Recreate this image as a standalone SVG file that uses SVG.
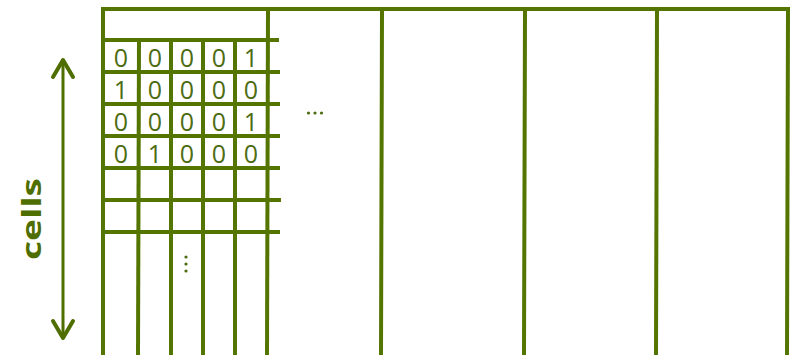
<svg xmlns="http://www.w3.org/2000/svg" width="794" height="355" viewBox="0 0 794 355">
<style>
.ln{stroke:#547500;stroke-width:4;fill:none;stroke-linecap:square}
.d{font-family:"Open Sans","Liberation Sans",sans-serif;font-size:25px;fill:#4d6b10;text-anchor:middle}
.dot{fill:#4d6b10}
.lbl{font-family:"Open Sans","Liberation Sans",sans-serif;font-size:27px;font-weight:bold;fill:#4f6e00;text-anchor:middle}
</style>
<rect width="794" height="355" fill="#ffffff"/>
<g id="frame" class="ln">
<line x1="103" y1="9" x2="788" y2="9"/>
<line x1="103" y1="9" x2="103" y2="355"/>
<line x1="268" y1="9" x2="267" y2="355"/>
<line x1="382" y1="10" x2="381" y2="355"/>
<line x1="525" y1="10" x2="524" y2="355"/>
<line x1="657" y1="10" x2="656" y2="355"/>
<line x1="788" y1="10" x2="787" y2="355"/>
</g>
<g id="grid" class="ln">
<line x1="103" y1="40" x2="277" y2="40"/>
<line x1="103" y1="72" x2="278" y2="72"/>
<line x1="103" y1="104" x2="278" y2="104"/>
<line x1="103" y1="136" x2="278" y2="136"/>
<line x1="103" y1="168" x2="278" y2="168"/>
<line x1="103" y1="200" x2="279" y2="200"/>
<line x1="103" y1="232" x2="278" y2="232"/>
<line x1="139" y1="40" x2="138" y2="355"/>
<line x1="171" y1="40" x2="171" y2="355"/>
<line x1="203" y1="40" x2="203" y2="355"/>
<line x1="235" y1="40" x2="235" y2="355"/>
</g>
<g id="digits">
<text class="d" x="121" y="67">0</text><text class="d" x="155" y="67">0</text><text class="d" x="187" y="67">0</text><text class="d" x="219" y="67">0</text><text class="d" x="251" y="67">1</text>
<text class="d" x="121" y="99">1</text><text class="d" x="155" y="99">0</text><text class="d" x="187" y="99">0</text><text class="d" x="219" y="99">0</text><text class="d" x="251" y="99">0</text>
<text class="d" x="121" y="131">0</text><text class="d" x="155" y="131">0</text><text class="d" x="187" y="131">0</text><text class="d" x="219" y="131">0</text><text class="d" x="251" y="131">1</text>
<text class="d" x="121" y="163">0</text><text class="d" x="155" y="163">1</text><text class="d" x="187" y="163">0</text><text class="d" x="219" y="163">0</text><text class="d" x="251" y="163">0</text>
</g>
<g id="ellipsis-h">
<circle class="dot" cx="308.5" cy="113" r="1.6"/><circle class="dot" cx="315" cy="113" r="1.6"/><circle class="dot" cx="321.5" cy="113" r="1.6"/>
</g>
<g id="ellipsis-v">
<circle class="dot" cx="186" cy="257" r="1.6"/><circle class="dot" cx="186" cy="264" r="1.6"/><circle class="dot" cx="186" cy="271" r="1.6"/>
</g>
<g id="connectors">
<line x1="63" y1="60" x2="63" y2="338" stroke="#4f6e00" stroke-width="3"/>
<polyline points="53,77 63,60 73,77" fill="none" stroke="#4f6e00" stroke-width="4" stroke-linecap="round" stroke-linejoin="round"/>
<polyline points="53,321 63,338 73,321" fill="none" stroke="#4f6e00" stroke-width="4" stroke-linecap="round" stroke-linejoin="round"/>
</g>
<g id="label">
<text class="lbl" transform="translate(41,219) rotate(-90)" textLength="82" lengthAdjust="spacingAndGlyphs">cells</text>
</g>
</svg>
